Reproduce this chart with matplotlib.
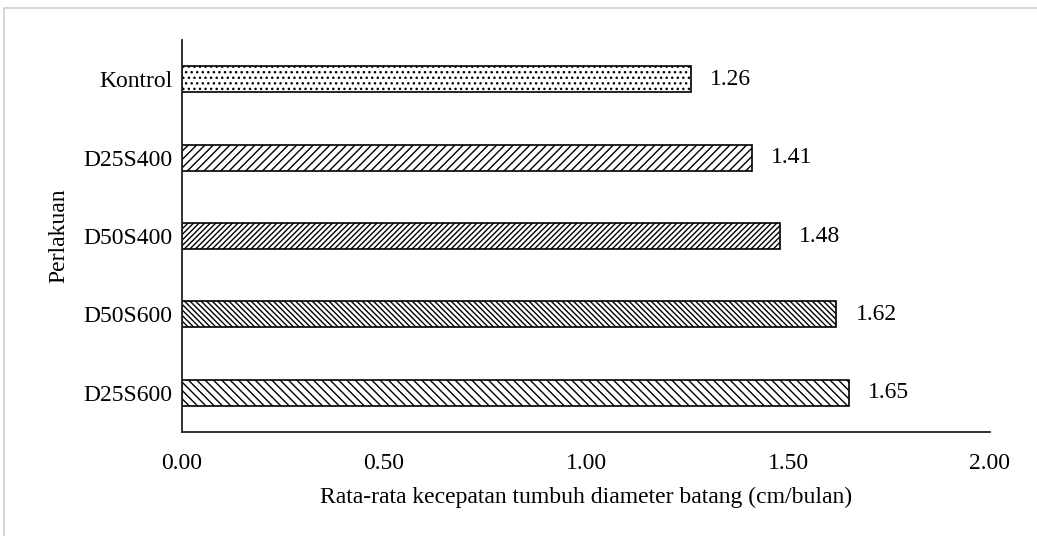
import matplotlib
matplotlib.use("Agg")
import matplotlib.pyplot as plt
from matplotlib.patches import Rectangle

categories = ["Kontrol", "D25S400", "D50S400", "D50S600", "D25S600"]
values = [1.26, 1.41, 1.48, 1.62, 1.65]
hatches = ["...", "////", "//////", "\\\\\\\\\\\\", "\\\\\\\\"]
xticks = [0.0, 0.5, 1.0, 1.5, 2.0]

plt.rcParams["font.family"] = ["Liberation Serif", "DejaVu Serif"]
plt.rcParams["hatch.linewidth"] = 1.0
FS = 17

fig = plt.figure(figsize=(10.37, 5.36), dpi=100)
fig.patches.append(Rectangle((4 / 1037, -0.01), 1.1, 1 - 8 / 536 + 0.01,
                             transform=fig.transFigure, fill=False,
                             edgecolor="#d0d0d0", linewidth=1.2))
ax = fig.add_axes([182 / 1037, 104 / 536, 808 / 1037, 392 / 536])

ypos = list(range(len(categories)))
for y, v, h in zip(ypos, values, hatches):
    ax.barh(y, v, height=0.33, color="white", edgecolor="black",
            linewidth=1.2, hatch=h)
    ax.annotate(f"{v:.2f}", xy=(v, y), xytext=(19, 0),
                textcoords="offset pixels",
                va="center", ha="left", fontsize=FS)

ax.set_xlim(0, 2.0)
ax.set_ylim(len(categories) - 0.5, -0.5)
ax.set_yticks(ypos)
ax.set_yticklabels(categories, fontsize=FS)
ax.set_xticks(xticks)
ax.set_xticklabels([f"{t:.2f}" for t in xticks], fontsize=FS)
ax.tick_params(axis="x", length=0, pad=15)
ax.tick_params(axis="y", length=0, pad=7)
for s in ["top", "right"]:
    ax.spines[s].set_visible(False)
for s in ["left", "bottom"]:
    ax.spines[s].set_linewidth(1.3)
    ax.spines[s].set_color("#222222")

ax.set_xlabel("Rata-rata kecepatan tumbuh diameter batang (cm/bulan)",
              fontsize=FS, labelpad=9)
ax.set_ylabel("Perlakuan", fontsize=FS, labelpad=10)

fig.savefig("out.png", dpi=100)
